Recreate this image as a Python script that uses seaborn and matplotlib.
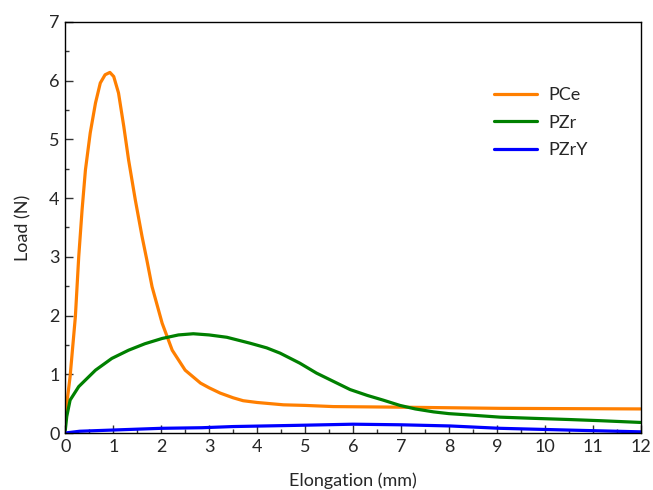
import matplotlib
matplotlib.use("Agg")
import matplotlib.pyplot as plt
import seaborn as sns
import pandas as pd
from matplotlib.ticker import MultipleLocator

# Data
pce_x = [0, 0.015, 0.10, 0.21, 0.28, 0.35, 0.42, 0.52, 0.63, 0.73, 0.83, 0.93, 1.01, 1.11,
         1.22, 1.32, 1.46, 1.60, 1.70, 1.81, 2.02, 2.23, 2.50, 2.82, 3.0, 3.23, 3.5, 3.71,
         4.0, 4.55, 5.0, 5.59, 6.98, 9.07, 12]
pce_y = [0.25, 0.39, 0.96, 1.98, 3.00, 3.80, 4.48, 5.11, 5.62, 5.96, 6.10, 6.14, 6.07, 5.79,
         5.22, 4.65, 3.97, 3.35, 2.95, 2.49, 1.87, 1.41, 1.07, 0.85, 0.77, 0.68, 0.60, 0.55,
         0.52, 0.48, 0.47, 0.45, 0.44, 0.42, 0.41]
pzr_x = [0, 0.03, 0.10, 0.28, 0.63, 0.97, 1.32, 1.66, 2.02, 2.36, 2.67, 3.0, 3.37, 3.85,
         4.2, 4.48, 4.89, 5.24, 5.59, 5.94, 6.3, 6.63, 6.98, 7.3, 7.68, 8.0, 8.37, 9.07,
         9.76, 10.5, 11.15, 12]
pzr_y = [0.05, 0.28, 0.56, 0.79, 1.07, 1.27, 1.41, 1.52, 1.61, 1.67, 1.69, 1.67, 1.63, 1.53,
         1.45, 1.36, 1.19, 1.02, 0.88, 0.74, 0.64, 0.56, 0.47, 0.41, 0.36, 0.33, 0.31, 0.27,
         0.25, 0.23, 0.21, 0.18]
pzry_x = [0, 0.3, 0.97, 2.0, 2.85, 3.5, 4.8, 6.0, 7.0, 8.03, 9.07, 10.5, 12]
pzry_y = [0.0, 0.03, 0.05, 0.08, 0.09, 0.11, 0.13, 0.15, 0.14, 0.12, 0.08, 0.05, 0.02]
series_names = ["PCe", "PZr", "PZrY"]
colors = ["#FF7F00", "#008000", "#0000FF"]

df = pd.concat([
    pd.DataFrame({"x": pce_x, "y": pce_y, "s": "PCe"}),
    pd.DataFrame({"x": pzr_x, "y": pzr_y, "s": "PZr"}),
    pd.DataFrame({"x": pzry_x, "y": pzry_y, "s": "PZrY"}),
])

sns.set_style("ticks")
plt.rcParams['font.family'] = ['Lato', 'DejaVu Sans']

fig = plt.figure(figsize=(6.53, 4.9), dpi=100)
ax = fig.add_axes([0.1, 0.1163, 0.881, 0.839])
sns.lineplot(data=df, x="x", y="y", hue="s", hue_order=series_names,
             palette=colors, estimator=None, sort=False, linewidth=2.3, ax=ax)
for ln in ax.get_lines():
    ln.set_solid_joinstyle("round")
    ln.set_solid_capstyle("round")

ax.set_xlim(0, 12)
ax.set_ylim(0, 7)
ax.xaxis.set_major_locator(MultipleLocator(1))
ax.xaxis.set_minor_locator(MultipleLocator(0.5))
ax.yaxis.set_major_locator(MultipleLocator(1))
ax.yaxis.set_minor_locator(MultipleLocator(0.5))
ax.tick_params(which="major", direction="in", length=6, width=1, labelsize=13, pad=4, color="#333333")
ax.tick_params(which="minor", direction="in", length=3, width=1, color="#333333")
for sp in ax.spines.values():
    sp.set_visible(True)
    sp.set_color("black")
    sp.set_linewidth(1.0)

ax.set_xlabel("Elongation (mm)", fontsize=13, labelpad=13)
ax.set_ylabel("Load (N)", fontsize=13, labelpad=13)

leg = ax.legend(frameon=False, fontsize=13, loc="upper left",
                bbox_to_anchor=(0.717, 0.88), handlelength=2.4,
                handletextpad=0.6, labelspacing=0.62, title=None)

fig.savefig("out.png", dpi=100)
